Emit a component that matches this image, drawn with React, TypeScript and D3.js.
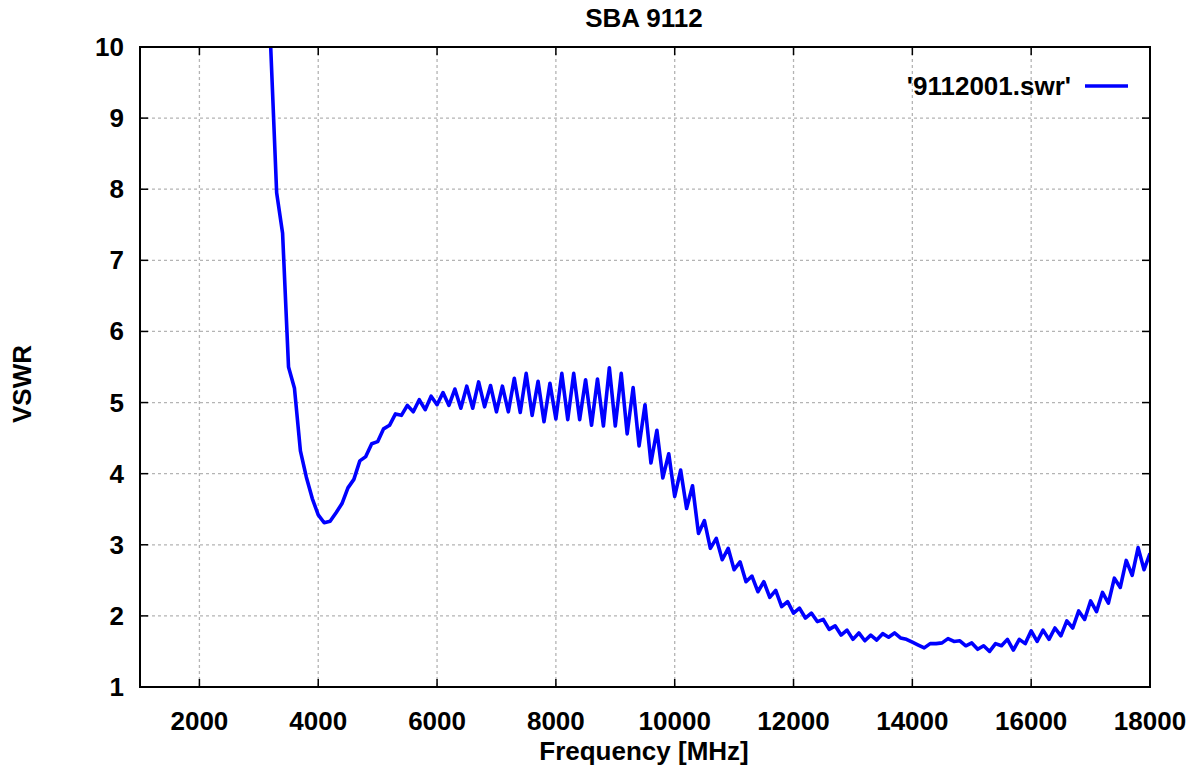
import React, { useEffect, useRef } from "react";
import * as d3 from "d3";

// measured frequencies (MHz)
const freqMHz = [
  3200, 3300, 3400, 3500, 3600, 3700, 3800, 3900, 4000, 4100,
  4200, 4300, 4400, 4500, 4600, 4700, 4800, 4900, 5000, 5100,
  5200, 5300, 5400, 5500, 5600, 5700, 5800, 5900, 6000, 6100,
  6200, 6300, 6400, 6500, 6600, 6700, 6800, 6900, 7000, 7100,
  7200, 7300, 7400, 7500, 7600, 7700, 7800, 7900, 8000, 8100,
  8200, 8300, 8400, 8500, 8600, 8700, 8800, 8900, 9000, 9100,
  9200, 9300, 9400, 9500, 9600, 9700, 9800, 9900, 10000, 10100,
  10200, 10300, 10400, 10500, 10600, 10700, 10800, 10900, 11000, 11100,
  11200, 11300, 11400, 11500, 11600, 11700, 11800, 11900, 12000, 12100,
  12200, 12300, 12400, 12500, 12600, 12700, 12800, 12900, 13000, 13100,
  13200, 13300, 13400, 13500, 13600, 13700, 13800, 13900, 14000, 14100,
  14200, 14300, 14400, 14500, 14600, 14700, 14800, 14900, 15000, 15100,
  15200, 15300, 15400, 15500, 15600, 15700, 15800, 15900, 16000, 16100,
  16200, 16300, 16400, 16500, 16600, 16700, 16800, 16900, 17000, 17100,
  17200, 17300, 17400, 17500, 17600, 17700, 17800, 17900, 18000,
];

const vswr = [
  10.0, 7.95, 7.38, 5.5, 5.2, 4.32, 3.95, 3.65, 3.42, 3.31,
  3.33, 3.45, 3.58, 3.8, 3.92, 4.18, 4.24, 4.42, 4.45, 4.63,
  4.68, 4.84, 4.82, 4.96, 4.87, 5.04, 4.9, 5.09, 4.97, 5.14,
  4.96, 5.19, 4.92, 5.23, 4.92, 5.29, 4.94, 5.24, 4.87, 5.23,
  4.87, 5.34, 4.86, 5.41, 4.82, 5.3, 4.73, 5.27, 4.77, 5.41,
  4.76, 5.41, 4.76, 5.32, 4.68, 5.33, 4.67, 5.49, 4.67, 5.41,
  4.56, 5.21, 4.39, 4.97, 4.15, 4.61, 3.94, 4.28, 3.68, 4.05,
  3.51, 3.83, 3.16, 3.34, 2.95, 3.09, 2.79, 2.95, 2.65, 2.76,
  2.48, 2.56, 2.34, 2.48, 2.26, 2.36, 2.13, 2.2, 2.04, 2.11,
  1.97, 2.04, 1.92, 1.95, 1.81, 1.86, 1.73, 1.8, 1.67, 1.76,
  1.65, 1.73, 1.66, 1.75, 1.7, 1.76, 1.69, 1.67, 1.63, 1.59,
  1.55, 1.61, 1.61, 1.62, 1.68, 1.64, 1.65, 1.58, 1.62, 1.53,
  1.58, 1.5, 1.61, 1.58, 1.67, 1.52, 1.67, 1.61, 1.79, 1.64,
  1.8, 1.67, 1.83, 1.72, 1.93, 1.83, 2.07, 1.95, 2.21, 2.06,
  2.33, 2.18, 2.53, 2.4, 2.78, 2.57, 2.96, 2.65, 2.88,
];

const xTicks = [2000, 4000, 6000, 8000, 10000, 12000, 14000, 16000, 18000];
const yTicks = [1, 2, 3, 4, 5, 6, 7, 8, 9, 10];

const W = 1199;
const H = 767;
const font = "'Liberation Sans', Arial, sans-serif";
const fs = 26;

export default function App() {
  const ref = useRef<SVGSVGElement>(null);

  useEffect(() => {
    document.body.style.margin = "0";
    const svg = d3.select(ref.current);
    svg.selectAll("*").remove();

    const left = 140, right = 1150, top = 47, bottom = 687;
    const x = d3.scaleLinear().domain([1000, 18000]).range([left, right]);
    const y = d3.scaleLinear().domain([1, 10]).range([bottom, top]);

    // grid
    const grid = svg.append("g")
      .attr("stroke", "#b4b4b4")
      .attr("stroke-width", 1.3)
      .attr("stroke-dasharray", "3,3");
    xTicks.filter(t => t < 18000).forEach(t => {
      grid.append("line").attr("x1", x(t)).attr("x2", x(t)).attr("y1", top).attr("y2", bottom);
    });
    yTicks.filter(t => t > 1 && t < 10).forEach(t => {
      grid.append("line").attr("x1", left).attr("x2", right).attr("y1", y(t)).attr("y2", y(t));
    });

    // ticks (inside, mirrored)
    const ticks = svg.append("g").attr("stroke", "#000").attr("stroke-width", 1.5);
    xTicks.forEach(t => {
      ticks.append("line").attr("x1", x(t)).attr("x2", x(t)).attr("y1", bottom).attr("y2", bottom - 8);
      ticks.append("line").attr("x1", x(t)).attr("x2", x(t)).attr("y1", top).attr("y2", top + 8);
    });
    yTicks.forEach(t => {
      ticks.append("line").attr("x1", left).attr("x2", left + 8).attr("y1", y(t)).attr("y2", y(t));
      ticks.append("line").attr("x1", right).attr("x2", right - 8).attr("y1", y(t)).attr("y2", y(t));
    });

    // tick labels
    const labels = svg.append("g")
      .attr("font-family", font)
      .attr("font-weight", "bold")
      .attr("font-size", fs)
      .attr("fill", "#000");
    xTicks.forEach(t => {
      labels.append("text").attr("x", x(t)).attr("y", bottom + 43)
        .attr("text-anchor", "middle").text(t);
    });
    yTicks.forEach(t => {
      labels.append("text").attr("x", left - 16).attr("y", y(t) + 9)
        .attr("text-anchor", "end").text(t);
    });

    // the curve
    svg.append("clipPath").attr("id", "plot-clip")
      .append("rect").attr("x", left).attr("y", top)
      .attr("width", right - left).attr("height", bottom - top);

    const pts = freqMHz.map((f, i) => [f, vswr[i]] as [number, number]);
    const line = d3.line<[number, number]>().x(d => x(d[0])).y(d => y(d[1]));
    svg.append("path")
      .datum(pts)
      .attr("clip-path", "url(#plot-clip)")
      .attr("fill", "none")
      .attr("stroke", "#0000ff")
      .attr("stroke-width", 3.6)
      .attr("stroke-linejoin", "round")
      .attr("d", line);

    // border
    svg.append("rect")
      .attr("x", left).attr("y", top)
      .attr("width", right - left).attr("height", bottom - top)
      .attr("fill", "none").attr("stroke", "#000").attr("stroke-width", 2);

    // legend
    svg.append("text")
      .attr("x", 1071).attr("y", 95)
      .attr("text-anchor", "end")
      .attr("font-family", font).attr("font-weight", "bold").attr("font-size", fs)
      .text("'9112001.swr'");
    svg.append("line")
      .attr("x1", 1085).attr("x2", 1128).attr("y1", 86).attr("y2", 86)
      .attr("stroke", "#0000ff").attr("stroke-width", 3.6);

    // titles
    svg.append("text")
      .attr("x", 644).attr("y", 27)
      .attr("text-anchor", "middle")
      .attr("font-family", font).attr("font-weight", "bold").attr("font-size", fs)
      .text("SBA 9112");
    svg.append("text")
      .attr("x", 644).attr("y", 760)
      .attr("text-anchor", "middle")
      .attr("font-family", font).attr("font-weight", "bold").attr("font-size", fs)
      .text("Frequency [MHz]");
    svg.append("text")
      .attr("transform", "translate(31,384) rotate(-90)")
      .attr("text-anchor", "middle")
      .attr("font-family", font).attr("font-weight", "bold").attr("font-size", fs)
      .text("VSWR");
  }, []);

  return <svg ref={ref} width={W} height={H} style={{ display: "block", background: "#fff" }} />;
}
